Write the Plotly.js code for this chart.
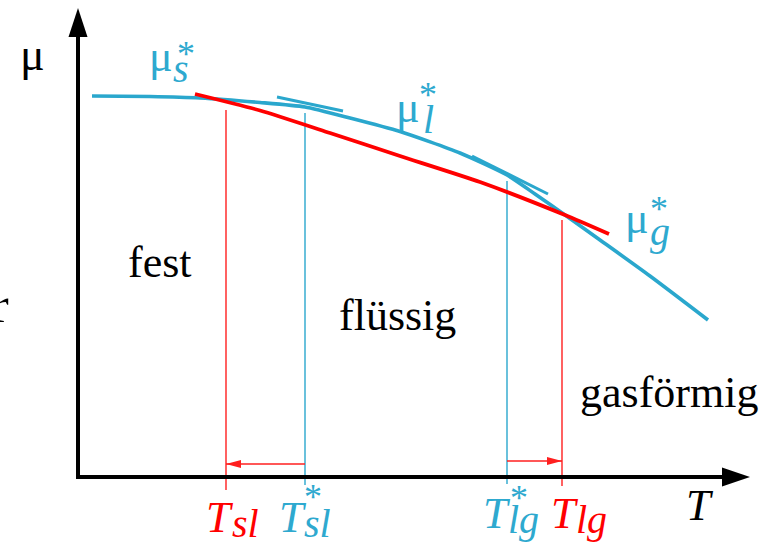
<!DOCTYPE html>
<html>
<head>
<meta charset="utf-8">
<script src="https://cdn.plot.ly/plotly-3.0.1.min.js"></script>
<style>
  html, body { margin: 0; padding: 0; background: #ffffff; }
  #chart { width: 775px; height: 547px; }
</style>
</head>
<body>
<div id="chart"></div>
<script>
// Schematic chemical potential μ(T) of solid, liquid and gas phases.
// Units are arbitrary: T grows to the right, μ grows upwards.

// Reference potential μ* (blue curve)
const curveT  = [14, 72, 122, 182, 227, 272, 322, 382, 429, 457, 487, 522, 572, 630];
const curveMu = [381, 380.5, 379, 374.5, 370, 359, 345.5, 324, 302, 283, 262, 237, 201, 157];

// Effective potential μ (red line)
const redT  = [117, 182, 252, 322, 402, 487, 531];
const redMu = [383, 366.5, 344, 321, 295, 262, 243];

// Short tangent pieces of μ* at the crossing points
const tangent1T  = [199, 265];
const tangent1Mu = [380, 366];
const tangent2T  = [394, 470];
const tangent2Mu = [321, 283];

// Transition temperatures
const T_sl      = 148;
const T_sl_star = 227;
const T_lg_star = 429;
const T_lg      = 484;

// Top ends of the vertical markers (μ level) and the lower end below the T axis
const markerTops = { T_sl: 367, T_sl_star: 364, T_lg_star: 296, T_lg: 257 };
const markerBottoms = { T_sl: -13, T_sl_star: -8, T_lg_star: -7, T_lg: -9 };

// Shift arrows between the two temperature pairs (μ level)
const shiftLevelSl = 13;
const shiftLevelLg = 16;

// Axis extent
const axisTEnd = 644, axisTTip = 672;
const axisMuEnd = 440, axisMuTip = 469;

const BLUE = '#2aa7cd';
const BLUE_TXT = '#2ea9cf';
const RED = '#ff0000';
const RED_THIN = '#ff1f1f';
const FONT = 'Liberation Serif, Times New Roman, serif';

const traces = [];

function line(xs, ys, color, width) {
  traces.push({
    type: 'scatter', mode: 'lines', x: xs, y: ys,
    line: { color: color, width: width }, hoverinfo: 'skip'
  });
}

// vertical markers
line([T_sl, T_sl], [markerBottoms.T_sl, markerTops.T_sl], RED_THIN, 1.4);
line([T_sl_star, T_sl_star], [markerBottoms.T_sl_star, markerTops.T_sl_star], BLUE, 1.4);
line([T_lg_star, T_lg_star], [markerBottoms.T_lg_star, markerTops.T_lg_star], BLUE, 1.4);
line([T_lg, T_lg], [markerBottoms.T_lg, markerTops.T_lg], RED_THIN, 1.4);

// shift arrows (shafts)
line([T_sl_star, T_sl], [shiftLevelSl, shiftLevelSl], RED_THIN, 1.4);
line([T_lg_star, T_lg], [shiftLevelLg, shiftLevelLg], RED_THIN, 1.4);

// tangents and curves
line(tangent1T, tangent1Mu, BLUE, 3);
line(tangent2T, tangent2Mu, BLUE, 3);
traces.push({
  type: 'scatter', mode: 'lines', x: curveT, y: curveMu,
  line: { color: BLUE, width: 3.6, shape: 'spline', smoothing: 0.6 }, hoverinfo: 'skip'
});
traces.push({
  type: 'scatter', mode: 'lines', x: redT, y: redMu,
  line: { color: RED, width: 3.8, shape: 'spline', smoothing: 0.6 }, hoverinfo: 'skip'
});

// axes lines
const shapes = [];
shapes.push({ type: 'line', xref: 'x', yref: 'y', x0: 0, x1: 0, y0: -2, y1: axisMuEnd,
  line: { color: '#000', width: 4 } });
shapes.push({ type: 'line', xref: 'x', yref: 'y', x0: -2, x1: axisTEnd, y0: 0, y1: 0,
  line: { color: '#000', width: 4 } });

// filled arrow head: tip (tx,ty), unit direction (dx,dy), length, half width
function head(tx, ty, dx, dy, len, hw, color) {
  const bx = tx - dx * len, by = ty - dy * len;
  const px = -dy, py = dx;
  const p = 'M' + tx + ',' + ty +
            ' L' + (bx + px * hw) + ',' + (by + py * hw) +
            ' L' + (bx - px * hw) + ',' + (by - py * hw) + ' Z';
  shapes.push({ type: 'path', xref: 'x', yref: 'y', path: p,
    fillcolor: color, line: { width: 0 } });
}
head(0, axisMuTip, 0, 1, axisMuTip - axisMuEnd, 9.5, '#000');
head(axisTTip, 0, 1, 0, axisTTip - axisTEnd, 9.5, '#000');
head(T_sl, shiftLevelSl, -1, 0, 15, 4, RED_THIN);
head(T_lg, shiftLevelLg, 1, 0, 15, 4, RED_THIN);

// text labels, placed by horizontal centre and baseline
const annotations = [];
function label(text, x, baseline, size, color, anchor) {
  annotations.push({
    xref: 'x', yref: 'y', x: x, y: baseline + 0.34 * size,
    text: text, showarrow: false, xanchor: anchor || 'center', yanchor: 'middle',
    font: { family: FONT, size: size, color: color }
  });
}

label('μ', -45.5, 407, 46, '#000');

label('μ', 83, 406, 44, BLUE_TXT);
label('<i>s</i>', 102.5, 395, 40, BLUE_TXT);
label('*', 107.5, 410.5, 36, BLUE_TXT);

label('μ', 329.5, 355, 44, BLUE_TXT);
label('<i>l</i>', 350.5, 344, 40, BLUE_TXT);
label('*', 349.5, 370, 36, BLUE_TXT);

label('μ', 558.5, 244, 44, BLUE_TXT);
label('<i>g</i>', 581.5, 232, 40, BLUE_TXT);
label('*', 580.5, 255.5, 36, BLUE_TXT);

label('fest', 82, 200, 44, '#000');
label('flüssig', 319, 147, 44, '#000');
label('gasförmig', 590.5, 70, 44, '#000');
label('r', -67, 155, 50, '#000', 'right');

label('<i>T</i>', 142, -55, 44, RED);
label('<i>sl</i>', 167.5, -60, 40, RED);

label('<i>T</i>', 214.5, -55, 44, BLUE_TXT);
label('<i>sl</i>', 239.5, -60, 40, BLUE_TXT);
label('*', 234.5, -32.5, 36, BLUE_TXT);

label('<i>T</i>', 418.5, -51, 44, BLUE_TXT);
label('<i>lg</i>', 445.5, -56, 40, BLUE_TXT);
label('*', 441, -33.5, 36, BLUE_TXT);

label('<i>T</i>', 486.5, -51, 44, RED);
label('<i>lg</i>', 513, -56, 40, RED);

label('<i>T</i>', 622, -43, 44, '#000');

const layout = {
  width: 775, height: 547,
  margin: { l: 0, r: 0, t: 0, b: 0, pad: 0 },
  paper_bgcolor: '#ffffff', plot_bgcolor: '#ffffff',
  showlegend: false,
  xaxis: { range: [-78, 697], visible: false, fixedrange: true },
  yaxis: { range: [-70, 477], visible: false, fixedrange: true },
  shapes: shapes,
  annotations: annotations
};

Plotly.newPlot('chart', traces, layout, { staticPlot: true, displayModeBar: false });
</script>
</body>
</html>
